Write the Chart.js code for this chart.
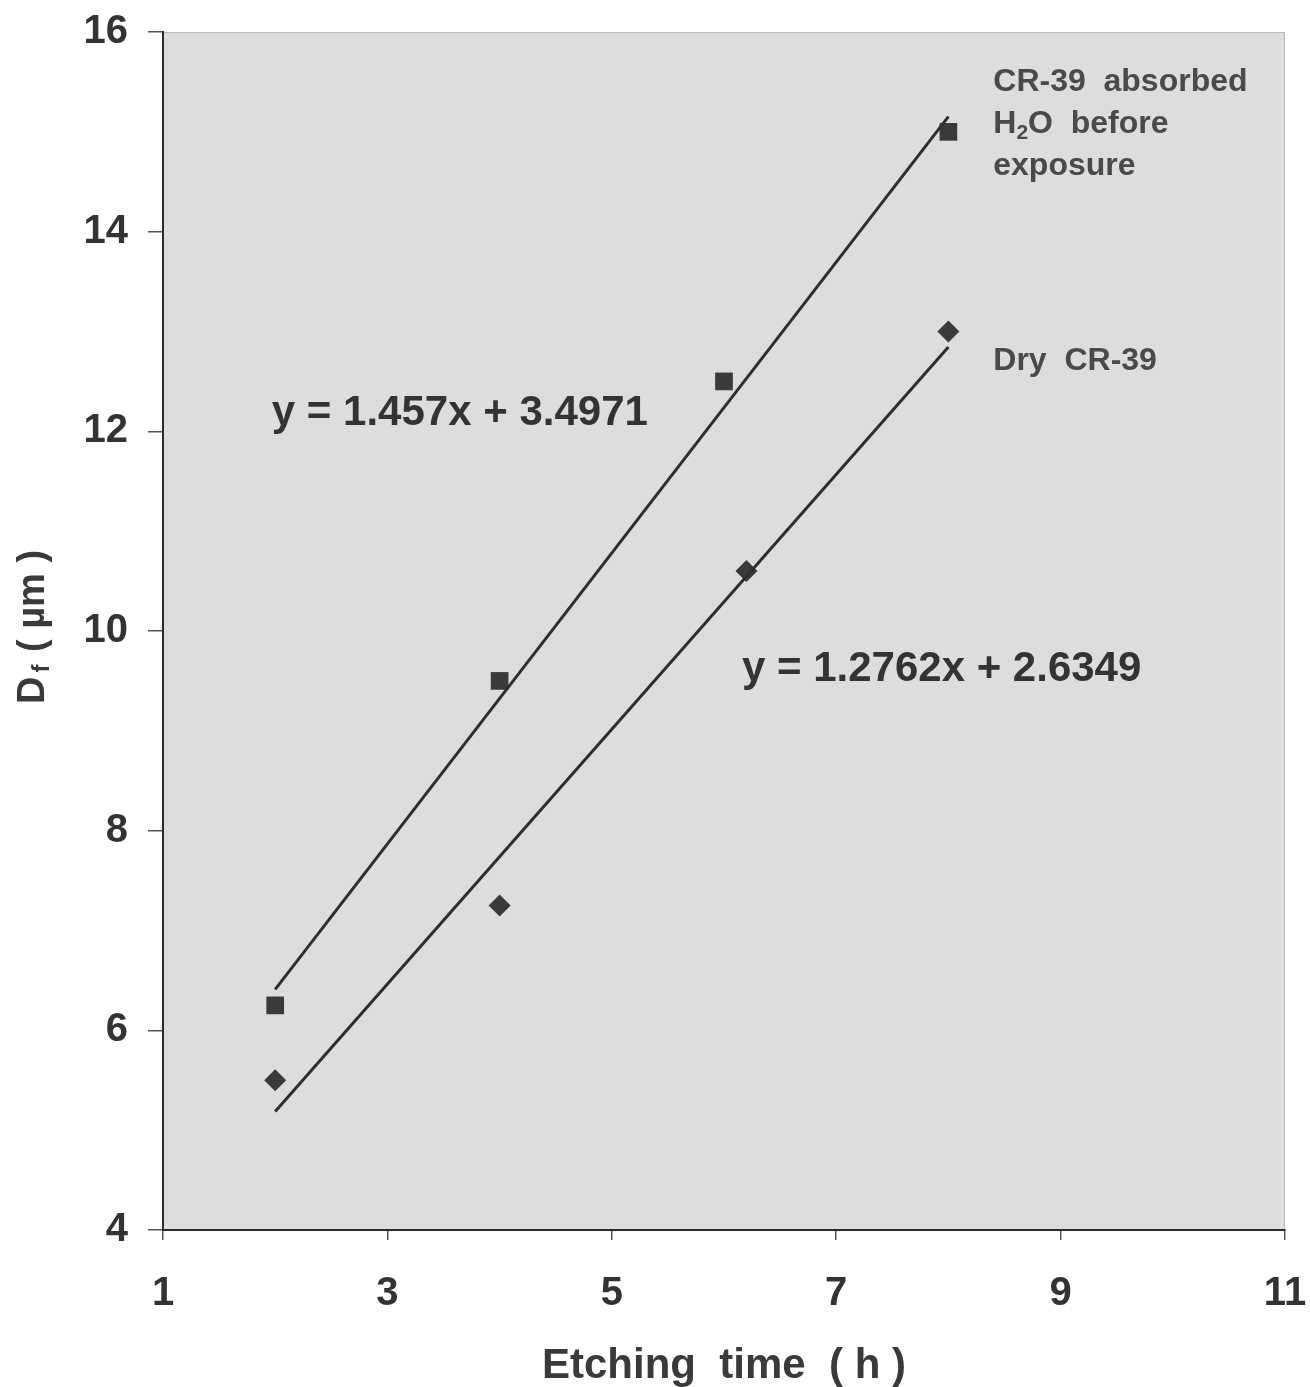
<!DOCTYPE html>
<html>
<head>
<meta charset="utf-8">
<script src="https://cdn.jsdelivr.net/npm/chart.js@4.4.0/dist/chart.umd.min.js"></script>
<style>
  html, body { margin: 0; padding: 0; background: #fff; }
  #wrap { width: 1310px; height: 1387px; }
</style>
</head>
<body>
<div id="wrap"><canvas id="etch-chart"></canvas></div>
<script>
// measured points, etching time (h) vs track diameter (um)
var wetTime = [2, 4, 6, 8];
var wetDiam = [6.25, 9.5, 12.5, 15.0];
var dryTime = [2, 4, 6.2, 8];
var dryDiam = [5.5, 7.25, 10.6, 13.0];

// linear fits as printed on the chart
var wetFit = { slope: 1.457, intercept: 3.4971, label: 'y = 1.457x + 3.4971' };
var dryFit = { slope: 1.2762, intercept: 2.6349, label: 'y = 1.2762x + 2.6349' };
var fitRange = [2, 8];

var xTicks = [1, 3, 5, 7, 9, 11];
var yTicks = [4, 6, 8, 10, 12, 14, 16];

var FONT = "'Liberation Sans', Arial, sans-serif";
var INK = '#333333';

function toPoints(xs, ys) {
    var pts = [];
    for (var i = 0; i < xs.length; i++) {
        pts.push({ x: xs[i], y: ys[i] });
    }
    return pts;
}

function fitLine(fit) {
    return fitRange.map(function(x) {
        return { x: x, y: fit.slope * x + fit.intercept };
    });
}

// grey plot background + texts placed in data coordinates
var decorPlugin = {
    id: 'decor',
    beforeDatasetsDraw: function(chart) {
        var ctx = chart.ctx;
        var a = chart.chartArea;
        ctx.save();
        ctx.fillStyle = '#dddddd';
        ctx.fillRect(a.left, a.top, a.right - a.left, a.bottom - a.top);
        ctx.strokeStyle = '#b8b8b8';
        ctx.lineWidth = 1;
        ctx.beginPath();
        ctx.moveTo(a.left, a.top + 0.5);
        ctx.lineTo(a.right - 0.5, a.top + 0.5);
        ctx.lineTo(a.right - 0.5, a.bottom);
        ctx.stroke();
        // re-draw the two axis lines over the fill
        ctx.strokeStyle = '#2a2a2a';
        ctx.lineWidth = 2;
        ctx.beginPath();
        ctx.moveTo(a.left, a.top);
        ctx.lineTo(a.left, a.bottom);
        ctx.lineTo(a.right, a.bottom);
        ctx.stroke();
        ctx.restore();
    },
    afterDatasetsDraw: function(chart) {
        var ctx = chart.ctx;
        var xs = chart.scales.x;
        var ys = chart.scales.y;
        ctx.save();
        ctx.textBaseline = 'middle';
        ctx.textAlign = 'left';

        // fit equations
        ctx.fillStyle = INK;
        ctx.font = 'bold 42px ' + FONT;
        ctx.fillText(wetFit.label, xs.getPixelForValue(1.97), ys.getPixelForValue(12.18));
        ctx.fillText(dryFit.label, xs.getPixelForValue(6.16), ys.getPixelForValue(9.62));

        // series names
        ctx.fillStyle = '#4a4a4a';
        ctx.font = 'bold 32px ' + FONT;
        var lx = xs.getPixelForValue(8.4);
        ctx.fillText('CR-39  absorbed', lx, ys.getPixelForValue(15.5));
        var hy = ys.getPixelForValue(15.08);
        ctx.fillText('H', lx, hy);
        var w = ctx.measureText('H').width;
        ctx.font = 'bold 21px ' + FONT;
        ctx.fillText('2', lx + w, hy + 9);
        var w2 = ctx.measureText('2').width;
        ctx.font = 'bold 32px ' + FONT;
        ctx.fillText('O  before', lx + w + w2, hy);
        ctx.fillText('exposure', lx, ys.getPixelForValue(14.66));
        ctx.fillText('Dry  CR-39', lx, ys.getPixelForValue(12.7));

        // axis titles
        ctx.fillStyle = '#3a3a3a';
        ctx.font = 'bold 42px ' + FONT;
        ctx.textAlign = 'center';
        ctx.fillText('Etching  time  ( h )', (chart.chartArea.left + chart.chartArea.right) / 2, 1366);

        ctx.translate(34, 630);
        ctx.rotate(-Math.PI / 2);
        ctx.textAlign = 'left';
        var parts = [['D', 'bold 38px '], ['f', 'bold 24px '], [' ( µm )', 'bold 38px ']];
        var total = 0;
        parts.forEach(function(p) { ctx.font = p[1] + FONT; total += ctx.measureText(p[0]).width; });
        var px = -total / 2;
        parts.forEach(function(p) {
            ctx.font = p[1] + FONT;
            var dy = p[0] === 'f' ? 8 : 0;
            ctx.fillText(p[0], px + (p[0] === 'f' ? 4 : 0), dy);
            px += ctx.measureText(p[0]).width + (p[0] === 'f' ? 6 : 0);
        });
        ctx.restore();
    }
};

new Chart(document.getElementById('etch-chart'), {
    type: 'scatter',
    data: {
        datasets: [{
            label: 'wet fit',
            data: fitLine(wetFit),
            showLine: true,
            borderColor: '#2e2e2e',
            borderWidth: 3,
            pointRadius: 0
        }, {
            label: 'dry fit',
            data: fitLine(dryFit),
            showLine: true,
            borderColor: '#2e2e2e',
            borderWidth: 3,
            pointRadius: 0
        }, {
            label: 'CR-39 absorbed H2O before exposure',
            data: toPoints(wetTime, wetDiam),
            pointStyle: 'rect',
            pointRadius: 12.5,
            backgroundColor: '#3a3a3a',
            borderColor: '#3a3a3a',
            borderWidth: 0
        }, {
            label: 'Dry CR-39',
            data: toPoints(dryTime, dryDiam),
            pointStyle: 'rectRot',
            pointRadius: 11,
            backgroundColor: '#3a3a3a',
            borderColor: '#3a3a3a',
            borderWidth: 0
        }]
    },
    options: {
        responsive: true,
        maintainAspectRatio: false,
        animation: false,
        layout: { padding: { left: 0, right: 25, top: 32, bottom: 0 } },
        plugins: {
            legend: { display: false },
            tooltip: { enabled: false }
        },
        scales: {
            x: {
                type: 'linear',
                min: 1,
                max: 11,
                afterBuildTicks: function(scale) {
                    scale.ticks = xTicks.map(function(v) { return { value: v }; });
                },
                afterFit: function(scale) {
                    scale.height = 157;
                    scale.paddingLeft = 0;
                    scale.paddingRight = 0;
                },
                grid: { drawOnChartArea: false, drawTicks: true, tickLength: 10, color: '#555', lineWidth: 1.5 },
                border: { display: true, color: '#2a2a2a', width: 2 },
                ticks: { color: INK, padding: 30, font: { family: FONT, size: 40, weight: 'bold' } }
            },
            y: {
                type: 'linear',
                min: 4,
                max: 16,
                afterBuildTicks: function(scale) {
                    scale.ticks = yTicks.map(function(v) { return { value: v }; });
                },
                afterFit: function(scale) {
                    scale.width = 163;
                    scale.paddingTop = 0;
                    scale.paddingBottom = 0;
                },
                grid: { drawOnChartArea: false, drawTicks: true, tickLength: 15, color: '#555', lineWidth: 1.5 },
                border: { display: true, color: '#2a2a2a', width: 2 },
                ticks: { color: INK, padding: 20, font: { family: FONT, size: 40, weight: 'bold' } }
            }
        }
    },
    plugins: [decorPlugin]
});
</script>
</body>
</html>
